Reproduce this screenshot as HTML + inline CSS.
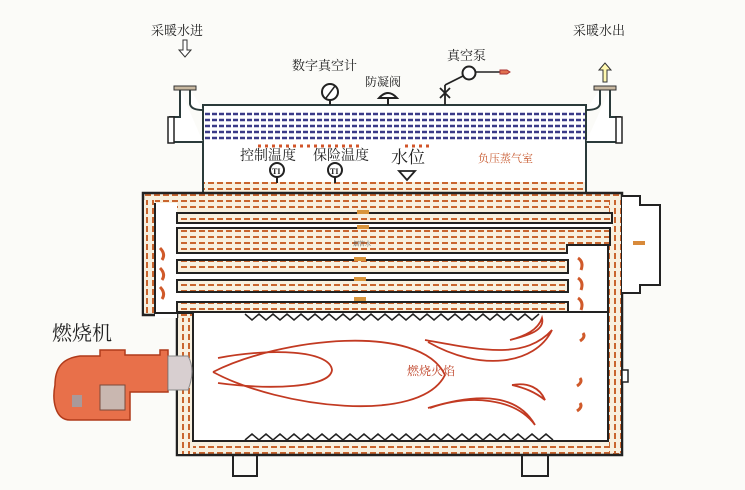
<!DOCTYPE html>
<html><head><meta charset="utf-8"><style>
html,body{margin:0;padding:0;background:#fbfbf8;}
svg{display:block;}
text{font-family:"Liberation Serif","Noto Serif CJK SC","Noto Sans CJK SC",serif;}
</style></head><body>
<svg width="745" height="490" viewBox="0 0 745 490" xmlns="http://www.w3.org/2000/svg">
<defs>
<pattern id="w" width="9" height="6" patternUnits="userSpaceOnUse">
<rect width="9" height="6" fill="#f8f0df"/>
<rect x="1" y="2" width="6" height="2" fill="#c9652e"/>
</pattern>
<pattern id="wv" width="6" height="9" patternUnits="userSpaceOnUse">
<rect width="6" height="9" fill="#f8f0df"/>
<rect x="2" y="1" width="2" height="6" fill="#c9652e"/>
</pattern>
</defs>
<rect width="745" height="490" fill="#fbfbf8"/>

<!-- upper vessel -->
<rect x="203" y="105" width="383" height="88" fill="#fff" stroke="#2a3a3a" stroke-width="2"/>
<rect x="204" y="182" width="381" height="11" fill="url(#w)"/>
<g stroke="#3b3b88" stroke-width="2.5" stroke-dasharray="5 2">
<line x1="205" y1="114" x2="585" y2="114"/><line x1="205" y1="120" x2="585" y2="120"/>
<line x1="205" y1="126" x2="585" y2="126"/><line x1="205" y1="132" x2="585" y2="132"/>
<line x1="205" y1="138" x2="585" y2="138"/>
</g>
<g stroke="#d2552a" stroke-width="3" stroke-dasharray="3 4">
<line x1="258" y1="146" x2="360" y2="146"/><line x1="405" y1="146" x2="432" y2="146"/>
</g>

<!-- lower shell -->
<path d="M143 193 H622 V455 H177 V315 H143 Z" fill="url(#w)" stroke="#222" stroke-width="2.5"/>
<rect x="144" y="200" width="11" height="113" fill="url(#wv)"/>
<rect x="178" y="318" width="15" height="136" fill="url(#wv)"/>
<rect x="609" y="200" width="12" height="253" fill="url(#wv)"/>
<path d="M155 203 H177 V223 H612 V228 H155 Z" fill="#fff"/>
<rect x="155" y="228" width="22" height="90" fill="#fff"/>
<rect x="177" y="253" width="432" height="7" fill="#fff"/>
<rect x="567" y="245" width="42" height="75" fill="#fff"/>
<rect x="177" y="273" width="392" height="7" fill="#fff"/>
<rect x="177" y="292" width="392" height="10" fill="#fff"/>
<path d="M155 203 V313 H193" fill="none" stroke="#222" stroke-width="2"/>
<rect x="193" y="312" width="415" height="129" fill="#fff" stroke="#222" stroke-width="2"/>
<path d="M608 245 V441" stroke="#222" stroke-width="2"/>
<g stroke="#222" stroke-width="2" fill="url(#w)">
<rect x="177" y="213" width="435" height="10"/>
<path d="M177 228 H610 V245 H567 V253 H177 Z"/>
<rect x="177" y="260" width="391" height="13"/>
<rect x="177" y="280" width="391" height="12"/>
<rect x="177" y="302" width="391" height="10"/>
</g>
<polyline points="245,314 252,320 259,314 266,320 273,314 280,320 287,314 294,320 301,314 308,320 315,314 322,320 329,314 336,320 343,314 350,320 357,314 364,320 371,314 378,320 385,314 392,320 399,314 406,320 413,314 420,320 427,314 434,320 441,314 448,320 455,314 462,320 469,314 476,320 483,314 490,320 497,314 504,320 511,314 518,320 525,314 532,320 539,314" fill="none" stroke="#222" stroke-width="1.5"/>
<polyline points="245,440 252,434 259,440 266,434 273,440 280,434 287,440 294,434 301,440 308,434 315,440 322,434 329,440 336,434 343,440 350,434 357,440 364,434 371,440 378,434 385,440 392,434 399,440 406,434 413,440 420,434 427,440 434,434 441,440 448,434 455,440 462,434 469,440 476,434 483,440 490,434 497,440 504,434 511,440 518,434 525,440 532,434 539,440 546,434 553,440" fill="none" stroke="#222" stroke-width="1.5"/>
<path d="M622 196 H640 V205 H660 V285 H640 V293 H622" fill="#fff" stroke="#222" stroke-width="2"/>
<rect x="633" y="241" width="12" height="4" fill="#d88a3a"/>
<rect x="622" y="370" width="6" height="12" fill="#fff" stroke="#222" stroke-width="1.5"/>
<path d="M233 456 V476 H257 V456 M522 456 V476 H548 V456" fill="none" stroke="#222" stroke-width="2"/>
<g fill="none" stroke="#d05a2a" stroke-width="3">
<path d="M160 248 q6 6 2 12"/><path d="M160 268 q6 6 2 12"/><path d="M160 287 q6 6 2 12"/>
<path d="M578 258 q6 4 3 12"/><path d="M578 278 q6 4 3 12"/><path d="M578 298 q6 4 3 12"/>
<path d="M583 333 q3 4 -3 8"/><path d="M580 378 q3 4 -3 8"/><path d="M580 403 q3 4 -3 8"/>
</g>
<g fill="#d8943a"><rect x="357" y="210" width="12" height="4"/><rect x="357" y="225" width="12" height="4"/><rect x="354" y="257" width="12" height="4"/><rect x="354" y="277" width="12" height="4"/><rect x="354" y="297" width="12" height="4"/></g>
<text x="353" y="246" font-size="6" fill="#555">烟管水</text>

<!-- flame -->
<g fill="none" stroke="#c23a22" stroke-width="1.8">
<path d="M213 372 C280 338 420 322 445 375 C420 425 280 408 213 372"/>
<path d="M218 358 C270 348 330 350 332 370 C330 388 270 390 218 383"/>
<path d="M425 340 C480 350 525 360 552 330 C535 365 480 372 428 342"/>
<path d="M428 408 C470 395 515 390 535 425 C515 398 470 394 430 408"/>
<path d="M510 340 C530 335 545 330 542 318 C538 330 525 336 510 340"/>
<path d="M512 385 C528 382 540 388 545 400 C535 392 525 388 512 385"/>
</g>
<text x="407" y="375" font-size="12" fill="#c0452a">燃烧火焰</text>

<!-- burner -->
<path d="M55 385 C55 365 65 358 80 356 H100 V350 H125 V355 H160 V350 H168 V392 H130 V420 H70 C55 420 52 400 55 385 Z" fill="#e8704a" stroke="#b03a1a" stroke-width="1.5"/>
<rect x="100" y="385" width="25" height="25" fill="#c9b7b0" stroke="#7a4a3a"/>
<rect x="72" y="395" width="10" height="12" fill="#a99"/>
<path d="M168 356 H188 Q196 370 188 390 H168 Z" fill="#d8cfd0" stroke="#888"/>
<text x="52" y="340" font-size="20" fill="#222">燃烧机</text>

<!-- pipes -->
<g fill="#fff" stroke="#2a3a3a" stroke-width="2">
<path d="M180 89 V117 H170 V142 H203 M190 89 V104 Q191 110 203 110"/>
<path d="M610 89 V117 H620 V142 H586 M600 89 V104 Q599 110 586 110"/>
</g>
<rect x="168" y="117" width="6" height="26" fill="#fff" stroke="#222" stroke-width="1.5"/>
<rect x="616" y="117" width="6" height="26" fill="#fff" stroke="#222" stroke-width="1.5"/>
<rect x="174" y="86" width="22" height="4" fill="#c8b8a0" stroke="#333" stroke-width="1"/>
<rect x="594" y="86" width="22" height="4" fill="#c8b8a0" stroke="#333" stroke-width="1"/>
<path d="M183 40 V50 H179 L185 57 L191 50 H187 V40 Z" fill="#fff" stroke="#333"/>
<path d="M603 82 V70 H599 L605 63 L611 70 H607 V82 Z" fill="#fff8b0" stroke="#333"/>
<text x="151" y="35" font-size="13" fill="#222">采暖水进</text>
<text x="573" y="35" font-size="13" fill="#222">采暖水出</text>

<text x="292" y="70" font-size="13" fill="#222">数字真空计</text>
<circle cx="330" cy="92" r="8" fill="#fff" stroke="#222" stroke-width="2"/>
<line x1="326" y1="98" x2="335" y2="86" stroke="#222" stroke-width="1.5"/>
<line x1="330" y1="100" x2="330" y2="105" stroke="#222" stroke-width="2"/>
<text x="365" y="86" font-size="12" fill="#222">防凝阀</text>
<path d="M379 98 Q388 88 397 98 Z M388 98 V105" fill="#fff" stroke="#222" stroke-width="2"/>
<text x="447" y="60" font-size="13" fill="#222">真空泵</text>
<path d="M445 85 V105 M440 88 L450 98 M450 88 L440 98 M445 85 L465 75" fill="none" stroke="#222" stroke-width="1.8"/>
<circle cx="469" cy="73" r="6.5" fill="#fff" stroke="#222" stroke-width="2"/>
<path d="M476 72 H500" stroke="#222" stroke-width="1.5"/>
<path d="M500 70 H507 L510 72 L507 74 H500 Z" fill="#e07050" stroke="#a33" stroke-width="1"/>

<text x="240" y="160" font-size="14" fill="#222">控制温度</text>
<text x="313" y="160" font-size="14" fill="#222">保险温度</text>
<g stroke="#222" stroke-width="2" fill="#fff">
<circle cx="277" cy="170" r="7"/><circle cx="335" cy="170" r="7"/>
<line x1="277" y1="177" x2="277" y2="183"/><line x1="335" y1="177" x2="335" y2="183"/>
</g>
<text x="272" y="174" font-size="8" font-weight="bold" fill="#222">TI</text>
<text x="330" y="174" font-size="8" font-weight="bold" fill="#222">TI</text>
<text x="391" y="163" font-size="17" fill="#222">水位</text>
<path d="M399 171 H415 L407 180 Z" fill="#fff" stroke="#222" stroke-width="1.8"/>
<text x="478" y="162" font-size="11" fill="#c85a30">负压蒸气室</text>
</svg>
</body></html>
